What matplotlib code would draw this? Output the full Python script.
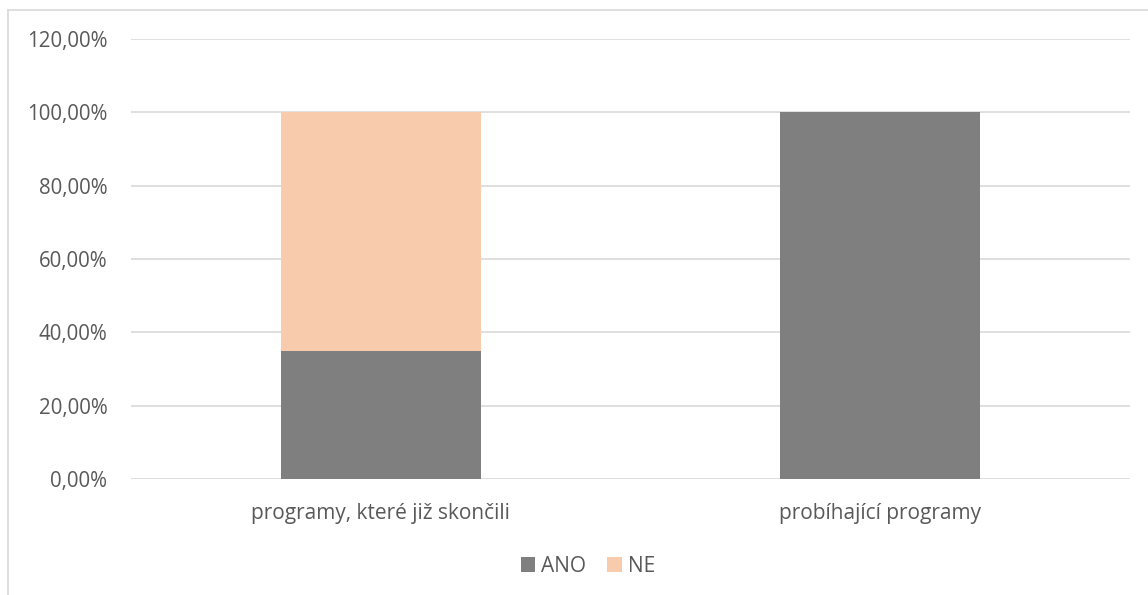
import matplotlib.pyplot as plt
from matplotlib.lines import Line2D
from matplotlib.ticker import FuncFormatter

# data
categories = ["programy, které již skončili", "probíhající programy"]
ano = [0.35, 1.00]
ne = [0.65, 0.0]
series_names = ["ANO", "NE"]
colors = ["#7f7f7f", "#f8cbad"]

plt.rcParams['font.family'] = ['Open Sans', 'DejaVu Sans']

fig = plt.figure(figsize=(11.48, 5.95), dpi=100)
ax = fig.add_axes([131/1148, 1 - 479/595, (1130 - 131)/1148, (479 - 39)/595])

x = range(len(categories))
ax.bar(x, ano, width=0.4, color=colors[0], label=series_names[0], zorder=3)
ax.bar(x, ne, width=0.4, bottom=ano, color=colors[1], label=series_names[1], zorder=3)

ax.set_xlim(-0.5, 1.5)
ax.set_ylim(0, 1.2)
ax.set_yticks([i * 0.2 for i in range(7)])
ax.yaxis.set_major_formatter(FuncFormatter(lambda v, p: f"{v*100:.2f}%".replace(".", ",")))
ax.set_xticks(list(x))
ax.set_xticklabels(categories)
ax.grid(axis='y', color='#d9d9d9', linewidth=1.2, zorder=0)
for s in ax.spines.values():
    s.set_visible(False)
ax.tick_params(axis='both', length=0, colors='#595959')
ax.tick_params(axis='y', pad=17, labelsize=14.8)
ax.tick_params(axis='x', pad=17, labelsize=15)

ax.legend(loc='center', bbox_to_anchor=(588/1148, 1 - 566/595), bbox_transform=fig.transFigure,
          ncol=2, frameon=False, fontsize=15, handlelength=0.7, handleheight=0.7,
          handletextpad=0.3, columnspacing=1.0, labelcolor='#595959')

# chart border (left and top)
fig.add_artist(Line2D([7.5/1148, 7.5/1148], [0, 1 - 9.5/595], transform=fig.transFigure, color='#d9d9d9', linewidth=1.2))
fig.add_artist(Line2D([7.5/1148, 1], [1 - 9.5/595, 1 - 9.5/595], transform=fig.transFigure, color='#d9d9d9', linewidth=1.2))

fig.savefig("out.png", dpi=100)
